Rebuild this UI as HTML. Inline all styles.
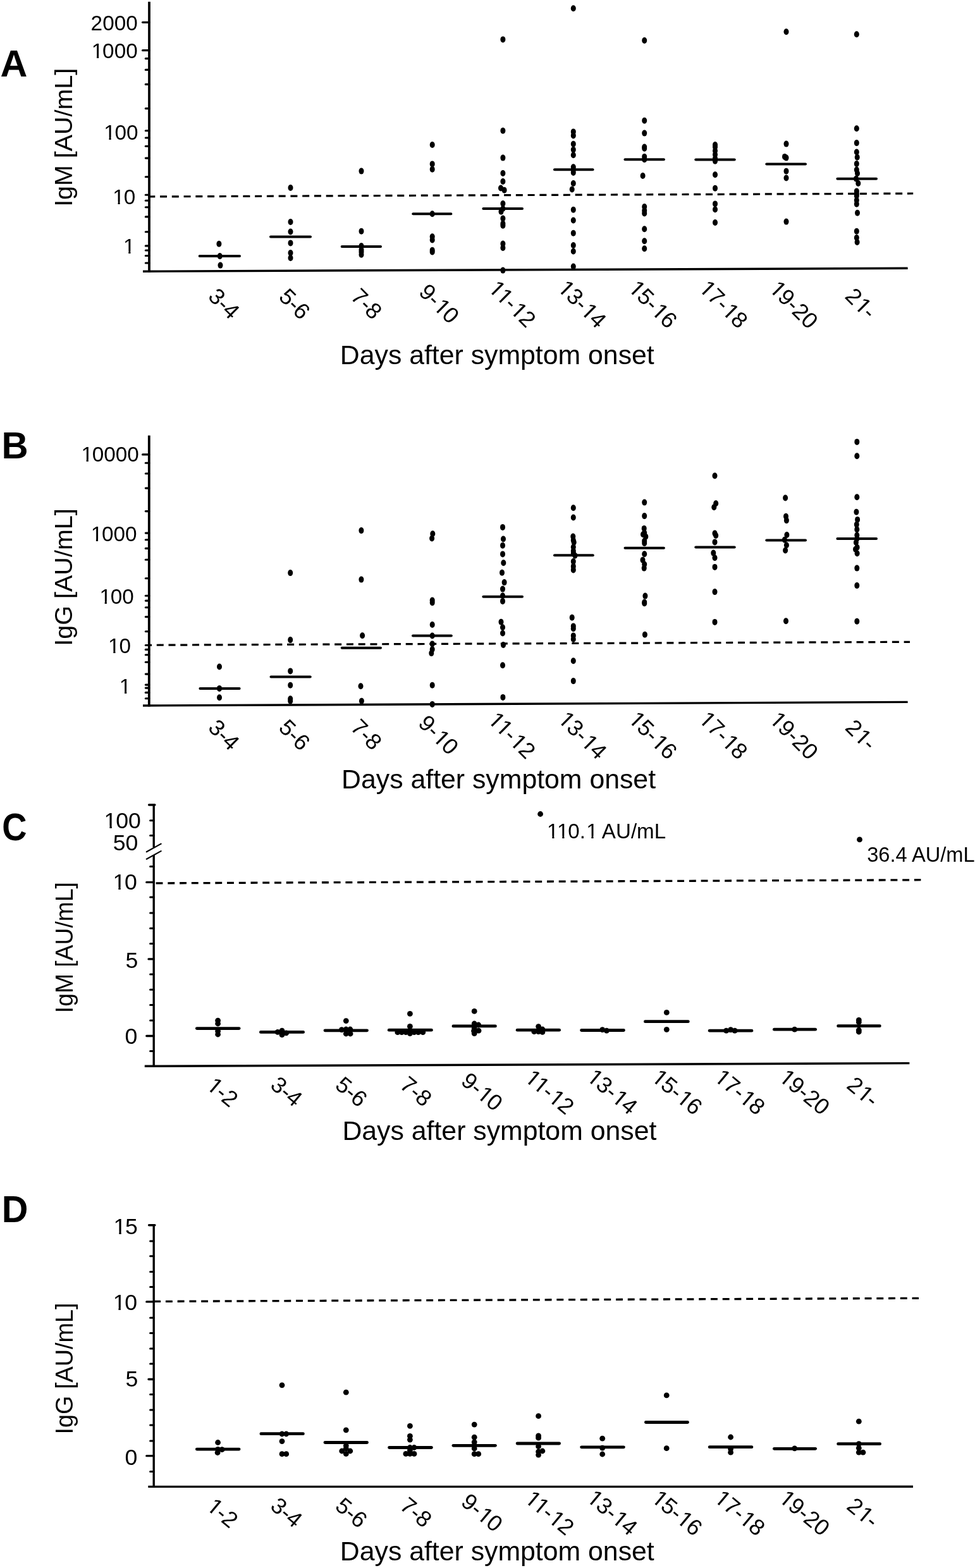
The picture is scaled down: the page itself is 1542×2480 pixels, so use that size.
<!DOCTYPE html>
<html><head><meta charset="utf-8"><title>Antibody levels by days after symptom onset</title>
<style>html,body{margin:0;padding:0;background:#fff;overflow:hidden}svg{display:block}</style></head>
<body><svg xmlns="http://www.w3.org/2000/svg" width="1542" height="2480" viewBox="0 0 1542 2480" font-family="'Liberation Sans', Arial, sans-serif" fill="#000" stroke="#000">
<rect width="1542" height="2480" fill="#fff" stroke="none"/>
<line x1="236" y1="2.7" x2="236" y2="430.8" stroke-width="3.8" stroke-linecap="butt"/>
<line x1="226" y1="429.2" x2="1435.6" y2="424.3" stroke-width="3.4" stroke-linecap="butt"/>
<line x1="225.6" y1="35.3" x2="236" y2="35.3" stroke-width="3.3" stroke-linecap="round"/>
<line x1="225.6" y1="79.7" x2="236" y2="79.7" stroke-width="3.3" stroke-linecap="round"/>
<line x1="230.3" y1="92.6" x2="236" y2="92.6" stroke-width="3.1" stroke-linecap="round"/>
<line x1="230.3" y1="110.4" x2="236" y2="110.4" stroke-width="3.1" stroke-linecap="round"/>
<line x1="230.3" y1="133.4" x2="236" y2="133.4" stroke-width="3.1" stroke-linecap="round"/>
<line x1="230.3" y1="171.6" x2="236" y2="171.6" stroke-width="3.1" stroke-linecap="round"/>
<line x1="230.3" y1="206.8" x2="236" y2="206.8" stroke-width="3.1" stroke-linecap="round"/>
<line x1="230.3" y1="218" x2="236" y2="218" stroke-width="3.1" stroke-linecap="round"/>
<line x1="230.3" y1="231.3" x2="236" y2="231.3" stroke-width="3.1" stroke-linecap="round"/>
<line x1="230.3" y1="250.1" x2="236" y2="250.1" stroke-width="3.1" stroke-linecap="round"/>
<line x1="230.3" y1="279.8" x2="236" y2="279.8" stroke-width="3.1" stroke-linecap="round"/>
<line x1="230.3" y1="308.2" x2="236" y2="308.2" stroke-width="3.1" stroke-linecap="round"/>
<line x1="230.3" y1="317.2" x2="236" y2="317.2" stroke-width="3.1" stroke-linecap="round"/>
<line x1="230.3" y1="327.7" x2="236" y2="327.7" stroke-width="3.1" stroke-linecap="round"/>
<line x1="230.3" y1="342.9" x2="236" y2="342.9" stroke-width="3.1" stroke-linecap="round"/>
<line x1="230.3" y1="366.7" x2="236" y2="366.7" stroke-width="3.1" stroke-linecap="round"/>
<line x1="230.3" y1="388.9" x2="236" y2="388.9" stroke-width="3.1" stroke-linecap="round"/>
<line x1="230.3" y1="396" x2="236" y2="396" stroke-width="3.1" stroke-linecap="round"/>
<line x1="230.3" y1="404.5" x2="236" y2="404.5" stroke-width="3.1" stroke-linecap="round"/>
<line x1="230.3" y1="416" x2="236" y2="416" stroke-width="3.1" stroke-linecap="round"/>
<line x1="236" y1="311" x2="1444.2" y2="306" stroke-width="3.2" stroke-dasharray="11 7.76" stroke-dashoffset="1.7"/>
<line x1="315.7" y1="405.1" x2="379" y2="405.1" stroke-width="4.0" stroke-linecap="round"/>
<line x1="428" y1="374.4" x2="491" y2="374.4" stroke-width="4.0" stroke-linecap="round"/>
<line x1="540.7" y1="390.1" x2="602" y2="390.1" stroke-width="4.0" stroke-linecap="round"/>
<line x1="653.3" y1="338.2" x2="713.3" y2="338.2" stroke-width="4.0" stroke-linecap="round"/>
<line x1="764.4" y1="330" x2="826" y2="330" stroke-width="4.0" stroke-linecap="round"/>
<line x1="877" y1="268.2" x2="937.5" y2="268.2" stroke-width="4.0" stroke-linecap="round"/>
<line x1="988.5" y1="252.2" x2="1049.9" y2="252.2" stroke-width="4.0" stroke-linecap="round"/>
<line x1="1100.3" y1="252.6" x2="1161.7" y2="252.6" stroke-width="4.0" stroke-linecap="round"/>
<line x1="1212.3" y1="259.4" x2="1274" y2="259.4" stroke-width="4.0" stroke-linecap="round"/>
<line x1="1324.4" y1="282.7" x2="1386" y2="282.7" stroke-width="4.0" stroke-linecap="round"/>
<ellipse cx="346.4" cy="385.8" rx="4.0" ry="5.0" stroke="none"/>
<ellipse cx="347.7" cy="405.1" rx="4.0" ry="5.0" stroke="none"/>
<ellipse cx="348.5" cy="419.6" rx="4.0" ry="5.0" stroke="none"/>
<ellipse cx="459.5" cy="297" rx="4.0" ry="5.0" stroke="none"/>
<ellipse cx="459.5" cy="351" rx="4.0" ry="5.0" stroke="none"/>
<ellipse cx="459.5" cy="366.5" rx="4.0" ry="5.0" stroke="none"/>
<ellipse cx="459.5" cy="384.4" rx="4.0" ry="5.0" stroke="none"/>
<ellipse cx="459.5" cy="400" rx="4.0" ry="5.0" stroke="none"/>
<ellipse cx="459.5" cy="408" rx="4.0" ry="5.0" stroke="none"/>
<ellipse cx="571.5" cy="270.6" rx="4.0" ry="5.0" stroke="none"/>
<ellipse cx="571.5" cy="365.7" rx="4.0" ry="5.0" stroke="none"/>
<ellipse cx="571.5" cy="389" rx="4.0" ry="5.0" stroke="none"/>
<ellipse cx="571.5" cy="395" rx="4.0" ry="5.0" stroke="none"/>
<ellipse cx="571.5" cy="398.4" rx="4.0" ry="5.0" stroke="none"/>
<ellipse cx="571.5" cy="402.7" rx="4.0" ry="5.0" stroke="none"/>
<ellipse cx="683.7" cy="229" rx="4.0" ry="5.0" stroke="none"/>
<ellipse cx="683.7" cy="259.4" rx="4.0" ry="5.0" stroke="none"/>
<ellipse cx="683.7" cy="267.7" rx="4.0" ry="5.0" stroke="none"/>
<ellipse cx="683.7" cy="338.2" rx="4.0" ry="5.0" stroke="none"/>
<ellipse cx="683.7" cy="374.3" rx="4.0" ry="5.0" stroke="none"/>
<ellipse cx="683.7" cy="379.5" rx="4.0" ry="5.0" stroke="none"/>
<ellipse cx="683.7" cy="395.8" rx="4.0" ry="5.0" stroke="none"/>
<ellipse cx="683.7" cy="398.4" rx="4.0" ry="5.0" stroke="none"/>
<ellipse cx="795.4" cy="62.4" rx="4.0" ry="5.0" stroke="none"/>
<ellipse cx="795.4" cy="206.7" rx="4.0" ry="5.0" stroke="none"/>
<ellipse cx="795.4" cy="249.6" rx="4.0" ry="5.0" stroke="none"/>
<ellipse cx="795.4" cy="274" rx="4.0" ry="5.0" stroke="none"/>
<ellipse cx="795.4" cy="287" rx="4.0" ry="5.0" stroke="none"/>
<ellipse cx="792" cy="297.5" rx="4.0" ry="5.0" stroke="none"/>
<ellipse cx="797.6" cy="300.7" rx="4.0" ry="5.0" stroke="none"/>
<ellipse cx="795.4" cy="322" rx="4.0" ry="5.0" stroke="none"/>
<ellipse cx="795.4" cy="330" rx="4.0" ry="5.0" stroke="none"/>
<ellipse cx="792.5" cy="334.8" rx="4.0" ry="5.0" stroke="none"/>
<ellipse cx="795.4" cy="345.6" rx="4.0" ry="5.0" stroke="none"/>
<ellipse cx="795.4" cy="353.7" rx="4.0" ry="5.0" stroke="none"/>
<ellipse cx="795.4" cy="356.8" rx="4.0" ry="5.0" stroke="none"/>
<ellipse cx="795.4" cy="385.5" rx="4.0" ry="5.0" stroke="none"/>
<ellipse cx="795.4" cy="392" rx="4.0" ry="5.0" stroke="none"/>
<ellipse cx="795.4" cy="427.6" rx="4.0" ry="5.0" stroke="none"/>
<ellipse cx="906.8" cy="13.2" rx="4.0" ry="5.0" stroke="none"/>
<ellipse cx="906.8" cy="208.4" rx="4.0" ry="5.0" stroke="none"/>
<ellipse cx="906.8" cy="214.4" rx="4.0" ry="5.0" stroke="none"/>
<ellipse cx="906.8" cy="227.8" rx="4.0" ry="5.0" stroke="none"/>
<ellipse cx="906.8" cy="236.7" rx="4.0" ry="5.0" stroke="none"/>
<ellipse cx="906.8" cy="245.3" rx="4.0" ry="5.0" stroke="none"/>
<ellipse cx="906.8" cy="264.3" rx="4.0" ry="5.0" stroke="none"/>
<ellipse cx="906.8" cy="268.2" rx="4.0" ry="5.0" stroke="none"/>
<ellipse cx="906.8" cy="272.9" rx="4.0" ry="5.0" stroke="none"/>
<ellipse cx="906.8" cy="290" rx="4.0" ry="5.0" stroke="none"/>
<ellipse cx="904.7" cy="299.5" rx="4.0" ry="5.0" stroke="none"/>
<ellipse cx="906.8" cy="331.7" rx="4.0" ry="5.0" stroke="none"/>
<ellipse cx="906.8" cy="348.5" rx="4.0" ry="5.0" stroke="none"/>
<ellipse cx="906.8" cy="368.8" rx="4.0" ry="5.0" stroke="none"/>
<ellipse cx="906.8" cy="388" rx="4.0" ry="5.0" stroke="none"/>
<ellipse cx="906.8" cy="397.5" rx="4.0" ry="5.0" stroke="none"/>
<ellipse cx="906.8" cy="421.6" rx="4.0" ry="5.0" stroke="none"/>
<ellipse cx="1019.2" cy="64" rx="4.0" ry="5.0" stroke="none"/>
<ellipse cx="1019.2" cy="190.7" rx="4.0" ry="5.0" stroke="none"/>
<ellipse cx="1019.2" cy="210.6" rx="4.0" ry="5.0" stroke="none"/>
<ellipse cx="1019.2" cy="232.5" rx="4.0" ry="5.0" stroke="none"/>
<ellipse cx="1019.2" cy="234.7" rx="4.0" ry="5.0" stroke="none"/>
<ellipse cx="1019.2" cy="247.9" rx="4.0" ry="5.0" stroke="none"/>
<ellipse cx="1019.2" cy="252.2" rx="4.0" ry="5.0" stroke="none"/>
<ellipse cx="1016.6" cy="278" rx="4.0" ry="5.0" stroke="none"/>
<ellipse cx="1019.2" cy="327" rx="4.0" ry="5.0" stroke="none"/>
<ellipse cx="1019.2" cy="333" rx="4.0" ry="5.0" stroke="none"/>
<ellipse cx="1019.2" cy="337.4" rx="4.0" ry="5.0" stroke="none"/>
<ellipse cx="1019.2" cy="362.3" rx="4.0" ry="5.0" stroke="none"/>
<ellipse cx="1019.2" cy="381.2" rx="4.0" ry="5.0" stroke="none"/>
<ellipse cx="1019.2" cy="393.2" rx="4.0" ry="5.0" stroke="none"/>
<ellipse cx="1131" cy="229" rx="4.0" ry="5.0" stroke="none"/>
<ellipse cx="1131" cy="232.5" rx="4.0" ry="5.0" stroke="none"/>
<ellipse cx="1131" cy="238.5" rx="4.0" ry="5.0" stroke="none"/>
<ellipse cx="1131" cy="244.5" rx="4.0" ry="5.0" stroke="none"/>
<ellipse cx="1131" cy="250.5" rx="4.0" ry="5.0" stroke="none"/>
<ellipse cx="1131" cy="254.8" rx="4.0" ry="5.0" stroke="none"/>
<ellipse cx="1131" cy="276.3" rx="4.0" ry="5.0" stroke="none"/>
<ellipse cx="1131" cy="297.8" rx="4.0" ry="5.0" stroke="none"/>
<ellipse cx="1131" cy="322.4" rx="4.0" ry="5.0" stroke="none"/>
<ellipse cx="1131" cy="331.3" rx="4.0" ry="5.0" stroke="none"/>
<ellipse cx="1131" cy="352" rx="4.0" ry="5.0" stroke="none"/>
<ellipse cx="1243.5" cy="50.3" rx="4.0" ry="5.0" stroke="none"/>
<ellipse cx="1243.5" cy="227.6" rx="4.0" ry="5.0" stroke="none"/>
<ellipse cx="1241" cy="247.9" rx="4.0" ry="5.0" stroke="none"/>
<ellipse cx="1243.5" cy="249.6" rx="4.0" ry="5.0" stroke="none"/>
<ellipse cx="1243.5" cy="270.8" rx="4.0" ry="5.0" stroke="none"/>
<ellipse cx="1243.5" cy="281.5" rx="4.0" ry="5.0" stroke="none"/>
<ellipse cx="1243.5" cy="350.6" rx="4.0" ry="5.0" stroke="none"/>
<ellipse cx="1354.8" cy="54.2" rx="4.0" ry="5.0" stroke="none"/>
<ellipse cx="1354.8" cy="203.2" rx="4.0" ry="5.0" stroke="none"/>
<ellipse cx="1354.8" cy="226.1" rx="4.0" ry="5.0" stroke="none"/>
<ellipse cx="1354.8" cy="240.5" rx="4.0" ry="5.0" stroke="none"/>
<ellipse cx="1355.7" cy="248.8" rx="4.0" ry="5.0" stroke="none"/>
<ellipse cx="1354.8" cy="259.1" rx="4.0" ry="5.0" stroke="none"/>
<ellipse cx="1354.8" cy="268.6" rx="4.0" ry="5.0" stroke="none"/>
<ellipse cx="1356" cy="274.2" rx="4.0" ry="5.0" stroke="none"/>
<ellipse cx="1354" cy="282.7" rx="4.0" ry="5.0" stroke="none"/>
<ellipse cx="1357.3" cy="290" rx="4.0" ry="5.0" stroke="none"/>
<ellipse cx="1354.8" cy="302.4" rx="4.0" ry="5.0" stroke="none"/>
<ellipse cx="1354.8" cy="306.4" rx="4.0" ry="5.0" stroke="none"/>
<ellipse cx="1354.8" cy="309.8" rx="4.0" ry="5.0" stroke="none"/>
<ellipse cx="1354.8" cy="316.7" rx="4.0" ry="5.0" stroke="none"/>
<ellipse cx="1354.8" cy="322.7" rx="4.0" ry="5.0" stroke="none"/>
<ellipse cx="1356" cy="336.8" rx="4.0" ry="5.0" stroke="none"/>
<ellipse cx="1354.8" cy="365.7" rx="4.0" ry="5.0" stroke="none"/>
<ellipse cx="1354.8" cy="376" rx="4.0" ry="5.0" stroke="none"/>
<ellipse cx="1355.6" cy="383" rx="4.0" ry="5.0" stroke="none"/>
<line x1="235.8" y1="688.8" x2="235.8" y2="1117.5" stroke-width="3.8" stroke-linecap="butt"/>
<line x1="226" y1="1116" x2="1435.6" y2="1110.4" stroke-width="3.4" stroke-linecap="butt"/>
<line x1="225.6" y1="718.9" x2="235.8" y2="718.9" stroke-width="3.3" stroke-linecap="round"/>
<line x1="230.3" y1="732.3" x2="235.8" y2="732.3" stroke-width="3.1" stroke-linecap="round"/>
<line x1="230.3" y1="749" x2="235.8" y2="749" stroke-width="3.1" stroke-linecap="round"/>
<line x1="230.3" y1="772.1" x2="235.8" y2="772.1" stroke-width="3.1" stroke-linecap="round"/>
<line x1="230.3" y1="808.6" x2="235.8" y2="808.6" stroke-width="3.1" stroke-linecap="round"/>
<line x1="230.3" y1="843.1" x2="235.8" y2="843.1" stroke-width="3.1" stroke-linecap="round"/>
<line x1="230.3" y1="853.7" x2="235.8" y2="853.7" stroke-width="3.1" stroke-linecap="round"/>
<line x1="230.3" y1="867.4" x2="235.8" y2="867.4" stroke-width="3.1" stroke-linecap="round"/>
<line x1="230.3" y1="885.2" x2="235.8" y2="885.2" stroke-width="3.1" stroke-linecap="round"/>
<line x1="230.3" y1="914.8" x2="235.8" y2="914.8" stroke-width="3.1" stroke-linecap="round"/>
<line x1="230.3" y1="942.2" x2="235.8" y2="942.2" stroke-width="3.1" stroke-linecap="round"/>
<line x1="230.3" y1="950.1" x2="235.8" y2="950.1" stroke-width="3.1" stroke-linecap="round"/>
<line x1="230.3" y1="960.7" x2="235.8" y2="960.7" stroke-width="3.1" stroke-linecap="round"/>
<line x1="230.3" y1="975.6" x2="235.8" y2="975.6" stroke-width="3.1" stroke-linecap="round"/>
<line x1="230.3" y1="998.7" x2="235.8" y2="998.7" stroke-width="3.1" stroke-linecap="round"/>
<line x1="230.3" y1="1020.5" x2="235.8" y2="1020.5" stroke-width="3.1" stroke-linecap="round"/>
<line x1="230.3" y1="1027.4" x2="235.8" y2="1027.4" stroke-width="3.1" stroke-linecap="round"/>
<line x1="230.3" y1="1035.7" x2="235.8" y2="1035.7" stroke-width="3.1" stroke-linecap="round"/>
<line x1="230.3" y1="1047.3" x2="235.8" y2="1047.3" stroke-width="3.1" stroke-linecap="round"/>
<line x1="230.3" y1="1066.1" x2="235.8" y2="1066.1" stroke-width="3.1" stroke-linecap="round"/>
<line x1="230.3" y1="1083.1" x2="235.8" y2="1083.1" stroke-width="3.1" stroke-linecap="round"/>
<line x1="230.3" y1="1088.1" x2="235.8" y2="1088.1" stroke-width="3.1" stroke-linecap="round"/>
<line x1="230.3" y1="1095.4" x2="235.8" y2="1095.4" stroke-width="3.1" stroke-linecap="round"/>
<line x1="230.3" y1="1104.8" x2="235.8" y2="1104.8" stroke-width="3.1" stroke-linecap="round"/>
<line x1="236" y1="1020.3" x2="1439" y2="1015.3" stroke-width="3.2" stroke-dasharray="11 7.76" stroke-dashoffset="7.0"/>
<line x1="316.4" y1="1088.9" x2="378.6" y2="1088.9" stroke-width="4.0" stroke-linecap="round"/>
<line x1="428.5" y1="1070.4" x2="490.7" y2="1070.4" stroke-width="4.0" stroke-linecap="round"/>
<line x1="540.7" y1="1024.8" x2="602" y2="1024.8" stroke-width="4.0" stroke-linecap="round"/>
<line x1="653" y1="1005.5" x2="713.8" y2="1005.5" stroke-width="4.0" stroke-linecap="round"/>
<line x1="764.4" y1="943.7" x2="826" y2="943.7" stroke-width="4.0" stroke-linecap="round"/>
<line x1="877" y1="878.3" x2="937.8" y2="878.3" stroke-width="4.0" stroke-linecap="round"/>
<line x1="988.5" y1="866.8" x2="1049.9" y2="866.8" stroke-width="4.0" stroke-linecap="round"/>
<line x1="1100.3" y1="865.4" x2="1161.7" y2="865.4" stroke-width="4.0" stroke-linecap="round"/>
<line x1="1212.3" y1="854.5" x2="1274" y2="854.5" stroke-width="4.0" stroke-linecap="round"/>
<line x1="1324.4" y1="852" x2="1386" y2="852" stroke-width="4.0" stroke-linecap="round"/>
<ellipse cx="347" cy="1054.5" rx="4.0" ry="5.0" stroke="none"/>
<ellipse cx="347" cy="1088.9" rx="4.0" ry="5.0" stroke="none"/>
<ellipse cx="347" cy="1103.2" rx="4.0" ry="5.0" stroke="none"/>
<ellipse cx="459.2" cy="906.1" rx="4.0" ry="5.0" stroke="none"/>
<ellipse cx="459.2" cy="1012.1" rx="4.0" ry="5.0" stroke="none"/>
<ellipse cx="459.2" cy="1061.4" rx="4.0" ry="5.0" stroke="none"/>
<ellipse cx="459.2" cy="1083.8" rx="4.0" ry="5.0" stroke="none"/>
<ellipse cx="459.2" cy="1105.3" rx="4.0" ry="5.0" stroke="none"/>
<ellipse cx="459.2" cy="1108.7" rx="4.0" ry="5.0" stroke="none"/>
<ellipse cx="571.4" cy="839.1" rx="4.0" ry="5.0" stroke="none"/>
<ellipse cx="571.4" cy="916.6" rx="4.0" ry="5.0" stroke="none"/>
<ellipse cx="573.1" cy="1005.2" rx="4.0" ry="5.0" stroke="none"/>
<ellipse cx="570.5" cy="1085.2" rx="4.0" ry="5.0" stroke="none"/>
<ellipse cx="571.9" cy="1108.7" rx="4.0" ry="5.0" stroke="none"/>
<ellipse cx="684.3" cy="844.2" rx="4.0" ry="5.0" stroke="none"/>
<ellipse cx="683.1" cy="851.5" rx="4.0" ry="5.0" stroke="none"/>
<ellipse cx="683.7" cy="949.6" rx="4.0" ry="5.0" stroke="none"/>
<ellipse cx="683.7" cy="953.1" rx="4.0" ry="5.0" stroke="none"/>
<ellipse cx="683.7" cy="988" rx="4.0" ry="5.0" stroke="none"/>
<ellipse cx="683.7" cy="1005.5" rx="4.0" ry="5.0" stroke="none"/>
<ellipse cx="683.7" cy="1018.4" rx="4.0" ry="5.0" stroke="none"/>
<ellipse cx="683.7" cy="1027" rx="4.0" ry="5.0" stroke="none"/>
<ellipse cx="682.3" cy="1033.1" rx="4.0" ry="5.0" stroke="none"/>
<ellipse cx="683.7" cy="1083.8" rx="4.0" ry="5.0" stroke="none"/>
<ellipse cx="683.7" cy="1113.9" rx="4.0" ry="5.0" stroke="none"/>
<ellipse cx="795" cy="833.9" rx="4.0" ry="5.0" stroke="none"/>
<ellipse cx="796" cy="852.5" rx="4.0" ry="5.0" stroke="none"/>
<ellipse cx="795" cy="862.8" rx="4.0" ry="5.0" stroke="none"/>
<ellipse cx="795" cy="876.4" rx="4.0" ry="5.0" stroke="none"/>
<ellipse cx="796.3" cy="890.2" rx="4.0" ry="5.0" stroke="none"/>
<ellipse cx="794" cy="905.8" rx="4.0" ry="5.0" stroke="none"/>
<ellipse cx="797.6" cy="921.1" rx="4.0" ry="5.0" stroke="none"/>
<ellipse cx="795" cy="931.6" rx="4.0" ry="5.0" stroke="none"/>
<ellipse cx="795" cy="942.3" rx="4.0" ry="5.0" stroke="none"/>
<ellipse cx="795" cy="950.9" rx="4.0" ry="5.0" stroke="none"/>
<ellipse cx="792.5" cy="983.8" rx="4.0" ry="5.0" stroke="none"/>
<ellipse cx="795" cy="992.3" rx="4.0" ry="5.0" stroke="none"/>
<ellipse cx="795" cy="1001.5" rx="4.0" ry="5.0" stroke="none"/>
<ellipse cx="796" cy="1020" rx="4.0" ry="5.0" stroke="none"/>
<ellipse cx="795" cy="1052.2" rx="4.0" ry="5.0" stroke="none"/>
<ellipse cx="795.4" cy="1102.9" rx="4.0" ry="5.0" stroke="none"/>
<ellipse cx="906.8" cy="803.3" rx="4.0" ry="5.0" stroke="none"/>
<ellipse cx="906.8" cy="818.5" rx="4.0" ry="5.0" stroke="none"/>
<ellipse cx="906.3" cy="848.6" rx="4.0" ry="5.0" stroke="none"/>
<ellipse cx="906.8" cy="854.6" rx="4.0" ry="5.0" stroke="none"/>
<ellipse cx="907.7" cy="857.7" rx="4.0" ry="5.0" stroke="none"/>
<ellipse cx="906.8" cy="865.2" rx="4.0" ry="5.0" stroke="none"/>
<ellipse cx="906.8" cy="871.4" rx="4.0" ry="5.0" stroke="none"/>
<ellipse cx="906.8" cy="874.9" rx="4.0" ry="5.0" stroke="none"/>
<ellipse cx="909.4" cy="878.7" rx="4.0" ry="5.0" stroke="none"/>
<ellipse cx="906.8" cy="888.1" rx="4.0" ry="5.0" stroke="none"/>
<ellipse cx="906.8" cy="895.9" rx="4.0" ry="5.0" stroke="none"/>
<ellipse cx="906.8" cy="901.4" rx="4.0" ry="5.0" stroke="none"/>
<ellipse cx="904.7" cy="976.8" rx="4.0" ry="5.0" stroke="none"/>
<ellipse cx="906.8" cy="990.4" rx="4.0" ry="5.0" stroke="none"/>
<ellipse cx="906.8" cy="994.2" rx="4.0" ry="5.0" stroke="none"/>
<ellipse cx="906.8" cy="1005.4" rx="4.0" ry="5.0" stroke="none"/>
<ellipse cx="906.8" cy="1011" rx="4.0" ry="5.0" stroke="none"/>
<ellipse cx="906.8" cy="1045.3" rx="4.0" ry="5.0" stroke="none"/>
<ellipse cx="906.8" cy="1077.1" rx="4.0" ry="5.0" stroke="none"/>
<ellipse cx="1019.2" cy="794.6" rx="4.0" ry="5.0" stroke="none"/>
<ellipse cx="1019.2" cy="816.1" rx="4.0" ry="5.0" stroke="none"/>
<ellipse cx="1018.7" cy="835.9" rx="4.0" ry="5.0" stroke="none"/>
<ellipse cx="1019.2" cy="842.7" rx="4.0" ry="5.0" stroke="none"/>
<ellipse cx="1017" cy="845.3" rx="4.0" ry="5.0" stroke="none"/>
<ellipse cx="1021.3" cy="848.8" rx="4.0" ry="5.0" stroke="none"/>
<ellipse cx="1019.2" cy="855.6" rx="4.0" ry="5.0" stroke="none"/>
<ellipse cx="1019.2" cy="859.1" rx="4.0" ry="5.0" stroke="none"/>
<ellipse cx="1019.2" cy="876.3" rx="4.0" ry="5.0" stroke="none"/>
<ellipse cx="1016.5" cy="885.7" rx="4.0" ry="5.0" stroke="none"/>
<ellipse cx="1019.2" cy="892.6" rx="4.0" ry="5.0" stroke="none"/>
<ellipse cx="1018.7" cy="898.6" rx="4.0" ry="5.0" stroke="none"/>
<ellipse cx="1020.4" cy="942.6" rx="4.0" ry="5.0" stroke="none"/>
<ellipse cx="1019.2" cy="952.5" rx="4.0" ry="5.0" stroke="none"/>
<ellipse cx="1019.2" cy="954.2" rx="4.0" ry="5.0" stroke="none"/>
<ellipse cx="1019.9" cy="1003.7" rx="4.0" ry="5.0" stroke="none"/>
<ellipse cx="1130.5" cy="752.5" rx="4.0" ry="5.0" stroke="none"/>
<ellipse cx="1132.2" cy="796.3" rx="4.0" ry="5.0" stroke="none"/>
<ellipse cx="1129.3" cy="802.3" rx="4.0" ry="5.0" stroke="none"/>
<ellipse cx="1130.5" cy="843.6" rx="4.0" ry="5.0" stroke="none"/>
<ellipse cx="1132.2" cy="847" rx="4.0" ry="5.0" stroke="none"/>
<ellipse cx="1130.5" cy="857.4" rx="4.0" ry="5.0" stroke="none"/>
<ellipse cx="1128.3" cy="874.6" rx="4.0" ry="5.0" stroke="none"/>
<ellipse cx="1130.5" cy="882.3" rx="4.0" ry="5.0" stroke="none"/>
<ellipse cx="1130.5" cy="896.9" rx="4.0" ry="5.0" stroke="none"/>
<ellipse cx="1130.5" cy="936.1" rx="4.0" ry="5.0" stroke="none"/>
<ellipse cx="1130.5" cy="983.9" rx="4.0" ry="5.0" stroke="none"/>
<ellipse cx="1242.1" cy="787.5" rx="4.0" ry="5.0" stroke="none"/>
<ellipse cx="1243" cy="816.7" rx="4.0" ry="5.0" stroke="none"/>
<ellipse cx="1243.9" cy="823.1" rx="4.0" ry="5.0" stroke="none"/>
<ellipse cx="1244.4" cy="846" rx="4.0" ry="5.0" stroke="none"/>
<ellipse cx="1240.9" cy="853.7" rx="4.0" ry="5.0" stroke="none"/>
<ellipse cx="1243.9" cy="862.3" rx="4.0" ry="5.0" stroke="none"/>
<ellipse cx="1242.1" cy="870.5" rx="4.0" ry="5.0" stroke="none"/>
<ellipse cx="1243" cy="982.3" rx="4.0" ry="5.0" stroke="none"/>
<ellipse cx="1355.3" cy="698.9" rx="4.0" ry="5.0" stroke="none"/>
<ellipse cx="1355.3" cy="721.3" rx="4.0" ry="5.0" stroke="none"/>
<ellipse cx="1355.3" cy="786.3" rx="4.0" ry="5.0" stroke="none"/>
<ellipse cx="1354.4" cy="809.8" rx="4.0" ry="5.0" stroke="none"/>
<ellipse cx="1356.1" cy="821.9" rx="4.0" ry="5.0" stroke="none"/>
<ellipse cx="1354.8" cy="829.6" rx="4.0" ry="5.0" stroke="none"/>
<ellipse cx="1355.3" cy="837.4" rx="4.0" ry="5.0" stroke="none"/>
<ellipse cx="1355.3" cy="846.5" rx="4.0" ry="5.0" stroke="none"/>
<ellipse cx="1355.3" cy="852" rx="4.0" ry="5.0" stroke="none"/>
<ellipse cx="1353.9" cy="858" rx="4.0" ry="5.0" stroke="none"/>
<ellipse cx="1355.6" cy="865.7" rx="4.0" ry="5.0" stroke="none"/>
<ellipse cx="1353" cy="868.8" rx="4.0" ry="5.0" stroke="none"/>
<ellipse cx="1355.6" cy="875.2" rx="4.0" ry="5.0" stroke="none"/>
<ellipse cx="1355.3" cy="898.6" rx="4.0" ry="5.0" stroke="none"/>
<ellipse cx="1355.3" cy="926.1" rx="4.0" ry="5.0" stroke="none"/>
<ellipse cx="1355.3" cy="982.8" rx="4.0" ry="5.0" stroke="none"/>
<line x1="243.2" y1="1272.9" x2="243.2" y2="1340.2" stroke-width="3.4" stroke-linecap="butt"/>
<line x1="243.2" y1="1352.5" x2="243.2" y2="1687.9" stroke-width="3.4" stroke-linecap="butt"/>
<line x1="231.8" y1="1347.3" x2="254.6" y2="1334.6" stroke-width="2.2" stroke-linecap="round"/>
<line x1="231.8" y1="1358.7" x2="254.6" y2="1346.1" stroke-width="2.2" stroke-linecap="round"/>
<line x1="235.6" y1="1273" x2="244.9" y2="1273" stroke-width="3.4" stroke-linecap="round"/>
<line x1="237.6" y1="1297.7" x2="243.2" y2="1297.7" stroke-width="3.0" stroke-linecap="round"/>
<line x1="237.6" y1="1321.5" x2="243.2" y2="1321.5" stroke-width="3.0" stroke-linecap="round"/>
<line x1="237.6" y1="1370.6" x2="243.2" y2="1370.6" stroke-width="3.0" stroke-linecap="round"/>
<line x1="237.6" y1="1419" x2="243.2" y2="1419" stroke-width="3.0" stroke-linecap="round"/>
<line x1="237.6" y1="1444.1" x2="243.2" y2="1444.1" stroke-width="3.0" stroke-linecap="round"/>
<line x1="237.6" y1="1468.3" x2="243.2" y2="1468.3" stroke-width="3.0" stroke-linecap="round"/>
<line x1="237.6" y1="1492.5" x2="243.2" y2="1492.5" stroke-width="3.0" stroke-linecap="round"/>
<line x1="237.6" y1="1541.1" x2="243.2" y2="1541.1" stroke-width="3.0" stroke-linecap="round"/>
<line x1="237.6" y1="1565.3" x2="243.2" y2="1565.3" stroke-width="3.0" stroke-linecap="round"/>
<line x1="237.6" y1="1589.6" x2="243.2" y2="1589.6" stroke-width="3.0" stroke-linecap="round"/>
<line x1="237.6" y1="1613.9" x2="243.2" y2="1613.9" stroke-width="3.0" stroke-linecap="round"/>
<line x1="237.6" y1="1662.5" x2="243.2" y2="1662.5" stroke-width="3.0" stroke-linecap="round"/>
<line x1="231.8" y1="1395.4" x2="243.2" y2="1395.4" stroke-width="3.3" stroke-linecap="round"/>
<line x1="235" y1="1516.9" x2="243.2" y2="1516.9" stroke-width="3.3" stroke-linecap="round"/>
<line x1="231.8" y1="1638.5" x2="243.2" y2="1638.5" stroke-width="3.3" stroke-linecap="round"/>
<line x1="228.8" y1="1686.3" x2="1438.4" y2="1681.6" stroke-width="3.4" stroke-linecap="butt"/>
<line x1="246.6" y1="1396.9" x2="1456.4" y2="1391.7" stroke-width="3.3" stroke-dasharray="10.9 7.84" stroke-dashoffset="0"/>
<line x1="311.3" y1="1626.6" x2="378.1" y2="1626.6" stroke-width="4.8" stroke-linecap="round"/>
<line x1="412.4" y1="1632.4" x2="479.6" y2="1632.4" stroke-width="4.8" stroke-linecap="round"/>
<line x1="514" y1="1629.8" x2="580.5" y2="1629.8" stroke-width="4.8" stroke-linecap="round"/>
<line x1="615.2" y1="1629.2" x2="682.4" y2="1629.2" stroke-width="4.8" stroke-linecap="round"/>
<line x1="716.9" y1="1622.9" x2="783.4" y2="1622.9" stroke-width="4.8" stroke-linecap="round"/>
<line x1="818.1" y1="1629.2" x2="884.6" y2="1629.2" stroke-width="4.8" stroke-linecap="round"/>
<line x1="919.6" y1="1629.5" x2="986.4" y2="1629.5" stroke-width="4.8" stroke-linecap="round"/>
<line x1="1020.4" y1="1615.7" x2="1088.3" y2="1615.7" stroke-width="4.8" stroke-linecap="round"/>
<line x1="1122.2" y1="1630.2" x2="1188.9" y2="1630.2" stroke-width="4.8" stroke-linecap="round"/>
<line x1="1224.4" y1="1628.2" x2="1289.6" y2="1628.2" stroke-width="4.8" stroke-linecap="round"/>
<line x1="1325.6" y1="1622.7" x2="1391.3" y2="1622.7" stroke-width="4.8" stroke-linecap="round"/>
<circle cx="344.6" cy="1614.2" r="4.4" stroke="none"/>
<circle cx="344.6" cy="1619" r="4.4" stroke="none"/>
<circle cx="344.6" cy="1630.9" r="4.4" stroke="none"/>
<circle cx="344.6" cy="1636" r="4.4" stroke="none"/>
<circle cx="439.1" cy="1632.4" r="4.4" stroke="none"/>
<circle cx="446" cy="1630.2" r="4.4" stroke="none"/>
<circle cx="446" cy="1636.7" r="4.4" stroke="none"/>
<circle cx="452.7" cy="1633.8" r="4.4" stroke="none"/>
<circle cx="547.3" cy="1614.6" r="4.4" stroke="none"/>
<circle cx="540.4" cy="1628.7" r="4.4" stroke="none"/>
<circle cx="547.3" cy="1628" r="4.4" stroke="none"/>
<circle cx="553.8" cy="1628" r="4.4" stroke="none"/>
<circle cx="547.3" cy="1635" r="4.4" stroke="none"/>
<circle cx="554.1" cy="1635" r="4.4" stroke="none"/>
<circle cx="648.4" cy="1603.3" r="4.4" stroke="none"/>
<circle cx="648.4" cy="1623.4" r="4.4" stroke="none"/>
<circle cx="628.8" cy="1632.7" r="4.4" stroke="none"/>
<circle cx="635.3" cy="1632.7" r="4.4" stroke="none"/>
<circle cx="641.9" cy="1632.7" r="4.4" stroke="none"/>
<circle cx="648.4" cy="1634.6" r="4.4" stroke="none"/>
<circle cx="655" cy="1632.7" r="4.4" stroke="none"/>
<circle cx="661.5" cy="1632.7" r="4.4" stroke="none"/>
<circle cx="668.8" cy="1632.7" r="4.4" stroke="none"/>
<circle cx="750.2" cy="1599.4" r="4.4" stroke="none"/>
<circle cx="750.2" cy="1619" r="4.4" stroke="none"/>
<circle cx="756.7" cy="1621" r="4.4" stroke="none"/>
<circle cx="750.2" cy="1626.8" r="4.4" stroke="none"/>
<circle cx="749.5" cy="1630.6" r="4.4" stroke="none"/>
<circle cx="757" cy="1630.2" r="4.4" stroke="none"/>
<circle cx="750.2" cy="1634.6" r="4.4" stroke="none"/>
<circle cx="851.6" cy="1623.6" r="4.4" stroke="none"/>
<circle cx="844.8" cy="1631.7" r="4.4" stroke="none"/>
<circle cx="851.6" cy="1631.7" r="4.4" stroke="none"/>
<circle cx="857.9" cy="1628" r="4.4" stroke="none"/>
<circle cx="857.9" cy="1632.4" r="4.4" stroke="none"/>
<circle cx="952.7" cy="1628.7" r="4.4" stroke="none"/>
<circle cx="959.4" cy="1630.2" r="4.4" stroke="none"/>
<circle cx="1054.3" cy="1601.4" r="4.4" stroke="none"/>
<circle cx="1054.3" cy="1628.3" r="4.4" stroke="none"/>
<circle cx="1148.6" cy="1630.2" r="4.4" stroke="none"/>
<circle cx="1155.6" cy="1628.6" r="4.4" stroke="none"/>
<circle cx="1162.1" cy="1630.2" r="4.4" stroke="none"/>
<circle cx="1256.7" cy="1628.2" r="4.4" stroke="none"/>
<circle cx="1358.3" cy="1613.3" r="4.4" stroke="none"/>
<circle cx="1358.3" cy="1616.7" r="4.4" stroke="none"/>
<circle cx="1358.3" cy="1629.2" r="4.4" stroke="none"/>
<circle cx="1358.3" cy="1632" r="4.4" stroke="none"/>
<circle cx="854.6" cy="1287.5" r="4.4" stroke="none"/>
<circle cx="1359.5" cy="1327.9" r="4.4" stroke="none"/>
<line x1="243.2" y1="1937.7" x2="243.2" y2="2353" stroke-width="3.4" stroke-linecap="butt"/>
<line x1="235.6" y1="1937.7" x2="244.9" y2="1937.7" stroke-width="3.4" stroke-linecap="round"/>
<line x1="237.6" y1="1962.9" x2="243.2" y2="1962.9" stroke-width="3.0" stroke-linecap="round"/>
<line x1="237.6" y1="1986.7" x2="243.2" y2="1986.7" stroke-width="3.0" stroke-linecap="round"/>
<line x1="237.6" y1="2011.5" x2="243.2" y2="2011.5" stroke-width="3.0" stroke-linecap="round"/>
<line x1="237.6" y1="2035.6" x2="243.2" y2="2035.6" stroke-width="3.0" stroke-linecap="round"/>
<line x1="237.6" y1="2084.3" x2="243.2" y2="2084.3" stroke-width="3.0" stroke-linecap="round"/>
<line x1="237.6" y1="2108.6" x2="243.2" y2="2108.6" stroke-width="3.0" stroke-linecap="round"/>
<line x1="237.6" y1="2132.9" x2="243.2" y2="2132.9" stroke-width="3.0" stroke-linecap="round"/>
<line x1="237.6" y1="2157" x2="243.2" y2="2157" stroke-width="3.0" stroke-linecap="round"/>
<line x1="237.6" y1="2205.5" x2="243.2" y2="2205.5" stroke-width="3.0" stroke-linecap="round"/>
<line x1="237.6" y1="2230" x2="243.2" y2="2230" stroke-width="3.0" stroke-linecap="round"/>
<line x1="237.6" y1="2254.1" x2="243.2" y2="2254.1" stroke-width="3.0" stroke-linecap="round"/>
<line x1="237.6" y1="2278.9" x2="243.2" y2="2278.9" stroke-width="3.0" stroke-linecap="round"/>
<line x1="237.6" y1="2327.5" x2="243.2" y2="2327.5" stroke-width="3.0" stroke-linecap="round"/>
<line x1="231.8" y1="2058.9" x2="243.2" y2="2058.9" stroke-width="3.3" stroke-linecap="round"/>
<line x1="235" y1="2181.5" x2="243.2" y2="2181.5" stroke-width="3.3" stroke-linecap="round"/>
<line x1="231.8" y1="2302.7" x2="243.2" y2="2302.7" stroke-width="3.3" stroke-linecap="round"/>
<line x1="234.3" y1="2351.4" x2="1444" y2="2351.3" stroke-width="3.4" stroke-linecap="butt"/>
<line x1="243.5" y1="2058.4" x2="1453" y2="2053.3" stroke-width="3.3" stroke-dasharray="10.9 7.84" stroke-dashoffset="0.3"/>
<line x1="311.3" y1="2292.1" x2="378.1" y2="2292.1" stroke-width="4.8" stroke-linecap="round"/>
<line x1="412.9" y1="2267.7" x2="479.4" y2="2267.7" stroke-width="4.8" stroke-linecap="round"/>
<line x1="514" y1="2281.5" x2="580.5" y2="2281.5" stroke-width="4.8" stroke-linecap="round"/>
<line x1="615.6" y1="2289.5" x2="682.4" y2="2289.5" stroke-width="4.8" stroke-linecap="round"/>
<line x1="716.9" y1="2286.3" x2="783.4" y2="2286.3" stroke-width="4.8" stroke-linecap="round"/>
<line x1="818.1" y1="2283" x2="884.6" y2="2283" stroke-width="4.8" stroke-linecap="round"/>
<line x1="919.6" y1="2288.8" x2="986.4" y2="2288.8" stroke-width="4.8" stroke-linecap="round"/>
<line x1="1021.4" y1="2249.5" x2="1087.5" y2="2249.5" stroke-width="4.8" stroke-linecap="round"/>
<line x1="1122.2" y1="2288.7" x2="1188.9" y2="2288.7" stroke-width="4.8" stroke-linecap="round"/>
<line x1="1224.4" y1="2291.3" x2="1289.6" y2="2291.3" stroke-width="4.8" stroke-linecap="round"/>
<line x1="1325.6" y1="2283.7" x2="1391.6" y2="2283.7" stroke-width="4.8" stroke-linecap="round"/>
<circle cx="344.6" cy="2281.5" r="4.4" stroke="none"/>
<circle cx="344.6" cy="2292.4" r="4.4" stroke="none"/>
<circle cx="351.1" cy="2292.7" r="4.4" stroke="none"/>
<circle cx="344.1" cy="2297.5" r="4.4" stroke="none"/>
<circle cx="446" cy="2190.8" r="4.4" stroke="none"/>
<circle cx="446" cy="2268" r="4.4" stroke="none"/>
<circle cx="452.7" cy="2268" r="4.4" stroke="none"/>
<circle cx="446" cy="2279.6" r="4.4" stroke="none"/>
<circle cx="446" cy="2299.7" r="4.4" stroke="none"/>
<circle cx="452.7" cy="2299.7" r="4.4" stroke="none"/>
<circle cx="547.3" cy="2202.2" r="4.4" stroke="none"/>
<circle cx="547.3" cy="2261.8" r="4.4" stroke="none"/>
<circle cx="547.3" cy="2286.6" r="4.4" stroke="none"/>
<circle cx="547.3" cy="2291" r="4.4" stroke="none"/>
<circle cx="540.7" cy="2295" r="4.4" stroke="none"/>
<circle cx="553.8" cy="2295" r="4.4" stroke="none"/>
<circle cx="547.3" cy="2299.4" r="4.4" stroke="none"/>
<circle cx="648.4" cy="2255.3" r="4.4" stroke="none"/>
<circle cx="648.4" cy="2271.3" r="4.4" stroke="none"/>
<circle cx="648.4" cy="2277.1" r="4.4" stroke="none"/>
<circle cx="648.4" cy="2289.5" r="4.4" stroke="none"/>
<circle cx="655" cy="2289.5" r="4.4" stroke="none"/>
<circle cx="641.9" cy="2299.4" r="4.4" stroke="none"/>
<circle cx="648.4" cy="2299.4" r="4.4" stroke="none"/>
<circle cx="655" cy="2299.4" r="4.4" stroke="none"/>
<circle cx="648.4" cy="2293.9" r="4.4" stroke="none"/>
<circle cx="750.2" cy="2253.1" r="4.4" stroke="none"/>
<circle cx="750.2" cy="2273.2" r="4.4" stroke="none"/>
<circle cx="750.2" cy="2280.8" r="4.4" stroke="none"/>
<circle cx="750.2" cy="2286.3" r="4.4" stroke="none"/>
<circle cx="750.2" cy="2291" r="4.4" stroke="none"/>
<circle cx="750.2" cy="2299.7" r="4.4" stroke="none"/>
<circle cx="756.7" cy="2299.7" r="4.4" stroke="none"/>
<circle cx="851.6" cy="2239.7" r="4.4" stroke="none"/>
<circle cx="851.6" cy="2270.9" r="4.4" stroke="none"/>
<circle cx="851.6" cy="2274.2" r="4.4" stroke="none"/>
<circle cx="851.6" cy="2287.7" r="4.4" stroke="none"/>
<circle cx="851.6" cy="2296" r="4.4" stroke="none"/>
<circle cx="857.9" cy="2295" r="4.4" stroke="none"/>
<circle cx="851.6" cy="2301.1" r="4.4" stroke="none"/>
<circle cx="952.7" cy="2275.2" r="4.4" stroke="none"/>
<circle cx="952.7" cy="2290.2" r="4.4" stroke="none"/>
<circle cx="952.7" cy="2300" r="4.4" stroke="none"/>
<circle cx="1054.2" cy="2206.9" r="4.4" stroke="none"/>
<circle cx="1054.2" cy="2290.7" r="4.4" stroke="none"/>
<circle cx="1155.6" cy="2273" r="4.4" stroke="none"/>
<circle cx="1155.6" cy="2291.7" r="4.4" stroke="none"/>
<circle cx="1155.6" cy="2297.2" r="4.4" stroke="none"/>
<circle cx="1256.7" cy="2290.9" r="4.4" stroke="none"/>
<circle cx="1358.3" cy="2248.2" r="4.4" stroke="none"/>
<circle cx="1358.3" cy="2283.7" r="4.4" stroke="none"/>
<circle cx="1358.3" cy="2290.3" r="4.4" stroke="none"/>
<circle cx="1358.3" cy="2297.2" r="4.4" stroke="none"/>
<circle cx="1364.9" cy="2297.2" r="4.4" stroke="none"/>
<g stroke="none">
<g transform="translate(22.05 120.80) scale(1.0237 1.0225)"><text font-size="58" font-weight="bold" text-anchor="middle">A</text></g>
<g transform="translate(23.60 724.90) scale(1.0057 1.0250)"><text font-size="58" font-weight="bold" text-anchor="middle">B</text></g>
<g transform="translate(22.90 1329.10) scale(0.9368 1.0475)"><text font-size="58" font-weight="bold" text-anchor="middle">C</text></g>
<g transform="translate(23.60 1933.20) scale(0.9943 1.0300)"><text font-size="58" font-weight="bold" text-anchor="middle">D</text></g>
<g transform="translate(180.65 47.97) scale(1.0100 1.0100)"><text font-size="33" text-anchor="middle">2000</text></g>
<g transform="translate(180.65 92.42) scale(1.0100 1.0100)"><g><text x="-36.706" font-size="33" dx="1.16 -1.16 0 0" clip-path="url(#f1)">1000</text></g></g>
<g transform="translate(190.84 220.56) scale(1.0100 1.0100)"><g><text x="-27.530" font-size="33" dx="1.16 -1.16 0" clip-path="url(#f2)">100</text></g></g>
<g transform="translate(195.63 322.67) scale(1.0100 1.0100)"><g><text x="-18.353" font-size="33" dx="1.16 -1.16" clip-path="url(#f3)">10</text></g></g>
<g transform="translate(204.28 400.72) scale(1.0100 1.0100)"><g><text x="-9.177" font-size="33" clip-path="url(#f4)">1</text></g></g>
<g transform="translate(173.55 730.37) scale(1.0100 1.0100)"><g><text x="-45.883" font-size="33" dx="1.16 -1.16 0 0 0" clip-path="url(#f5)">10000</text></g></g>
<g transform="translate(179.55 855.62) scale(1.0100 1.0100)"><g><text x="-36.706" font-size="33" dx="1.16 -1.16 0 0" clip-path="url(#f6)">1000</text></g></g>
<g transform="translate(184.04 954.52) scale(1.0100 1.0100)"><g><text x="-27.530" font-size="33" dx="1.16 -1.16 0" clip-path="url(#f7)">100</text></g></g>
<g transform="translate(188.43 1033.26) scale(1.0100 1.0100)"><g><text x="-18.353" font-size="33" dx="1.16 -1.16" clip-path="url(#f8)">10</text></g></g>
<g transform="translate(198.08 1097.21) scale(1.0100 1.0100)"><g><text x="-9.177" font-size="33" clip-path="url(#f9)">1</text></g></g>
<g transform="translate(193.09 1310.07) scale(0.9900 0.9900)"><g><text x="-30.032" font-size="36" dx="1.26 -1.26 0" clip-path="url(#f10)">100</text></g></g>
<g transform="translate(198.59 1345.27) scale(0.9900 0.9900)"><text font-size="36" text-anchor="middle">50</text></g>
<g transform="translate(197.09 1407.02) scale(0.9900 0.9900)"><g><text x="-20.022" font-size="36" dx="1.26 -1.26" clip-path="url(#f11)">10</text></g></g>
<g transform="translate(208.48 1530.97) scale(0.9900 0.9900)"><text font-size="36" text-anchor="middle">5</text></g>
<g transform="translate(207.49 1651.27) scale(0.9900 0.9900)"><text font-size="36" text-anchor="middle">0</text></g>
<g transform="translate(198.08 1952.07) scale(0.9900 0.9900)"><g><text x="-20.022" font-size="36" dx="1.26 -1.26" clip-path="url(#f12)">15</text></g></g>
<g transform="translate(197.19 2072.07) scale(0.9900 0.9900)"><g><text x="-20.022" font-size="36" dx="1.26 -1.26" clip-path="url(#f13)">10</text></g></g>
<g transform="translate(208.48 2193.37) scale(0.9900 0.9900)"><text font-size="36" text-anchor="middle">5</text></g>
<g transform="translate(207.49 2317.32) scale(0.9900 0.9900)"><text font-size="36" text-anchor="middle">0</text></g>
<g transform="translate(114.18 217.30) scale(1.0028 1.0038)"><text font-size="39.3" text-anchor="middle" transform="rotate(-90)">IgM [AU/mL]</text></g>
<g transform="translate(114.27 912.95) scale(0.9917 1.0062)"><text font-size="39.3" text-anchor="middle" transform="rotate(-90)">IgG [AU/mL]</text></g>
<g transform="translate(115.00 1498.60) scale(1.0000 0.9491)"><text font-size="39.3" text-anchor="middle" transform="rotate(-90)">IgM [AU/mL]</text></g>
<g transform="translate(114.84 2164.48) scale(0.9944 0.9617)"><text font-size="39.3" text-anchor="middle" transform="rotate(-90)">IgG [AU/mL]</text></g>
<g transform="translate(786.27 576.40) scale(1.0190 1.0190)"><text font-size="42" text-anchor="middle">Days after symptom onset</text></g>
<g transform="translate(788.57 1246.50) scale(1.0190 1.0190)"><text font-size="42" text-anchor="middle">Days after symptom onset</text></g>
<g transform="translate(789.87 1802.90) scale(1.0190 1.0190)"><text font-size="42" text-anchor="middle">Days after symptom onset</text></g>
<g transform="translate(786.27 2467.90) scale(1.0190 1.0190)"><text font-size="42" text-anchor="middle">Days after symptom onset</text></g>
<g transform="translate(863.96 1325.60) scale(1.0356 1.0356)"><g><text x="0.000" font-size="32" dx="1.12 0 -1.12 0 1.12 -1.12 0 0 0 0 0" clip-path="url(#f14)">110.1 AU/mL</text></g></g>
<g transform="translate(1371.18 1363.30) scale(1.0200 1.0200)"><text font-size="32" text-anchor="start">36.4 AU/mL</text></g>
<g transform="translate(345.70 488.85) scale(1.0180 1.0180)"><text font-size="35" text-anchor="middle" transform="rotate(45)">3-4</text></g>
<g transform="translate(457.35 489.42) scale(1.0180 1.0180)"><text font-size="35" text-anchor="middle" transform="rotate(45)">5-6</text></g>
<g transform="translate(571.14 489.17) scale(1.0180 1.0180)"><text font-size="35" text-anchor="middle" transform="rotate(45)">7-8</text></g>
<g transform="translate(685.95 488.91) scale(1.0180 1.0180)"><g transform="rotate(45)"><text x="-35.026" font-size="35" dx="0 0 1.23 -1.23" clip-path="url(#f15)">9-10</text></g></g>
<g transform="translate(801.31 488.67) scale(1.0180 1.0180)"><g transform="rotate(45)"><text x="-43.460" font-size="35" dx="1.23 0 -1.23 1.23 -1.23" clip-path="url(#f16)">11-12</text></g></g>
<g transform="translate(911.86 488.98) scale(1.0180 1.0180)"><g transform="rotate(45)"><text x="-44.759" font-size="35" dx="1.23 -1.23 0 1.23 -1.23" clip-path="url(#f17)">13-14</text></g></g>
<g transform="translate(1023.66 489.23) scale(1.0180 1.0180)"><g transform="rotate(45)"><text x="-44.759" font-size="35" dx="1.23 -1.23 0 1.23 -1.23" clip-path="url(#f18)">15-16</text></g></g>
<g transform="translate(1135.41 489.23) scale(1.0180 1.0180)"><g transform="rotate(45)"><text x="-44.759" font-size="35" dx="1.23 -1.23 0 1.23 -1.23" clip-path="url(#f19)">17-18</text></g></g>
<g transform="translate(1246.51 489.99) scale(1.0180 1.0180)"><g transform="rotate(45)"><text x="-44.759" font-size="35" dx="1.23 -1.23 0 0 0" clip-path="url(#f20)">19-20</text></g></g>
<g transform="translate(1353.03 488.48) scale(1.0180 1.0180)"><g transform="rotate(45)"><text x="-25.293" font-size="35" dx="0 1.23 -1.23" clip-path="url(#f21)">21-</text></g></g>
<g transform="translate(345.65 1170.85) scale(1.0180 1.0180)"><text font-size="35" text-anchor="middle" transform="rotate(45)">3-4</text></g>
<g transform="translate(457.25 1170.97) scale(1.0180 1.0180)"><text font-size="35" text-anchor="middle" transform="rotate(45)">5-6</text></g>
<g transform="translate(570.84 1170.42) scale(1.0180 1.0180)"><text font-size="35" text-anchor="middle" transform="rotate(45)">7-8</text></g>
<g transform="translate(685.00 1170.91) scale(1.0180 1.0180)"><g transform="rotate(45)"><text x="-35.026" font-size="35" dx="0 0 1.23 -1.23" clip-path="url(#f22)">9-10</text></g></g>
<g transform="translate(800.71 1171.02) scale(1.0180 1.0180)"><g transform="rotate(45)"><text x="-43.460" font-size="35" dx="1.23 0 -1.23 1.23 -1.23" clip-path="url(#f23)">11-12</text></g></g>
<g transform="translate(912.41 1171.08) scale(1.0180 1.0180)"><g transform="rotate(45)"><text x="-44.759" font-size="35" dx="1.23 -1.23 0 1.23 -1.23" clip-path="url(#f24)">13-14</text></g></g>
<g transform="translate(1023.71 1171.08) scale(1.0180 1.0180)"><g transform="rotate(45)"><text x="-44.759" font-size="35" dx="1.23 -1.23 0 1.23 -1.23" clip-path="url(#f25)">15-16</text></g></g>
<g transform="translate(1135.16 1171.08) scale(1.0180 1.0180)"><g transform="rotate(45)"><text x="-44.759" font-size="35" dx="1.23 -1.23 0 1.23 -1.23" clip-path="url(#f26)">17-18</text></g></g>
<g transform="translate(1246.81 1171.59) scale(1.0180 1.0180)"><g transform="rotate(45)"><text x="-44.759" font-size="35" dx="1.23 -1.23 0 0 0" clip-path="url(#f27)">19-20</text></g></g>
<g transform="translate(1353.08 1170.88) scale(1.0180 1.0180)"><g transform="rotate(45)"><text x="-25.293" font-size="35" dx="0 1.23 -1.23" clip-path="url(#f28)">21-</text></g></g>
<g transform="translate(343.77 1736.13) scale(1.0180 1.0180)"><g transform="rotate(40)"><text x="-25.293" font-size="35" dx="1.23 -1.23 0" clip-path="url(#f29)">1-2</text></g></g>
<g transform="translate(445.51 1735.81) scale(1.0180 1.0180)"><text font-size="35" text-anchor="middle" transform="rotate(40)">3-4</text></g>
<g transform="translate(548.07 1736.13) scale(1.0180 1.0180)"><text font-size="35" text-anchor="middle" transform="rotate(40)">5-6</text></g>
<g transform="translate(650.20 1735.48) scale(1.0180 1.0180)"><text font-size="35" text-anchor="middle" transform="rotate(40)">7-8</text></g>
<g transform="translate(754.51 1736.02) scale(1.0180 1.0180)"><g transform="rotate(40)"><text x="-35.026" font-size="35" dx="0 0 1.23 -1.23" clip-path="url(#f30)">9-10</text></g></g>
<g transform="translate(861.12 1735.93) scale(1.0180 1.0180)"><g transform="rotate(40)"><text x="-43.460" font-size="35" dx="1.23 0 -1.23 1.23 -1.23" clip-path="url(#f31)">11-12</text></g></g>
<g transform="translate(960.32 1735.48) scale(1.0180 1.0180)"><g transform="rotate(40)"><text x="-44.759" font-size="35" dx="1.23 -1.23 0 1.23 -1.23" clip-path="url(#f32)">13-14</text></g></g>
<g transform="translate(1062.72 1735.99) scale(1.0180 1.0180)"><g transform="rotate(40)"><text x="-44.759" font-size="35" dx="1.23 -1.23 0 1.23 -1.23" clip-path="url(#f33)">15-16</text></g></g>
<g transform="translate(1161.97 1735.99) scale(1.0180 1.0180)"><g transform="rotate(40)"><text x="-44.759" font-size="35" dx="1.23 -1.23 0 1.23 -1.23" clip-path="url(#f34)">17-18</text></g></g>
<g transform="translate(1264.28 1735.99) scale(1.0180 1.0180)"><g transform="rotate(40)"><text x="-44.759" font-size="35" dx="1.23 -1.23 0 0 0" clip-path="url(#f35)">19-20</text></g></g>
<g transform="translate(1356.98 1736.15) scale(1.0180 1.0180)"><g transform="rotate(40)"><text x="-25.293" font-size="35" dx="0 1.23 -1.23" clip-path="url(#f36)">21-</text></g></g>
<g transform="translate(343.77 2401.83) scale(1.0180 1.0180)"><g transform="rotate(40)"><text x="-25.293" font-size="35" dx="1.23 -1.23 0" clip-path="url(#f37)">1-2</text></g></g>
<g transform="translate(445.51 2401.51) scale(1.0180 1.0180)"><text font-size="35" text-anchor="middle" transform="rotate(40)">3-4</text></g>
<g transform="translate(548.07 2401.83) scale(1.0180 1.0180)"><text font-size="35" text-anchor="middle" transform="rotate(40)">5-6</text></g>
<g transform="translate(650.20 2401.18) scale(1.0180 1.0180)"><text font-size="35" text-anchor="middle" transform="rotate(40)">7-8</text></g>
<g transform="translate(754.51 2401.72) scale(1.0180 1.0180)"><g transform="rotate(40)"><text x="-35.026" font-size="35" dx="0 0 1.23 -1.23" clip-path="url(#f38)">9-10</text></g></g>
<g transform="translate(861.12 2401.63) scale(1.0180 1.0180)"><g transform="rotate(40)"><text x="-43.460" font-size="35" dx="1.23 0 -1.23 1.23 -1.23" clip-path="url(#f39)">11-12</text></g></g>
<g transform="translate(960.32 2401.19) scale(1.0180 1.0180)"><g transform="rotate(40)"><text x="-44.759" font-size="35" dx="1.23 -1.23 0 1.23 -1.23" clip-path="url(#f40)">13-14</text></g></g>
<g transform="translate(1062.72 2401.69) scale(1.0180 1.0180)"><g transform="rotate(40)"><text x="-44.759" font-size="35" dx="1.23 -1.23 0 1.23 -1.23" clip-path="url(#f41)">15-16</text></g></g>
<g transform="translate(1161.97 2401.69) scale(1.0180 1.0180)"><g transform="rotate(40)"><text x="-44.759" font-size="35" dx="1.23 -1.23 0 1.23 -1.23" clip-path="url(#f42)">17-18</text></g></g>
<g transform="translate(1264.28 2401.69) scale(1.0180 1.0180)"><g transform="rotate(40)"><text x="-44.759" font-size="35" dx="1.23 -1.23 0 0 0" clip-path="url(#f43)">19-20</text></g></g>
<g transform="translate(1356.98 2401.85) scale(1.0180 1.0180)"><g transform="rotate(40)"><text x="-25.293" font-size="35" dx="0 1.23 -1.23" clip-path="url(#f44)">21-</text></g></g>
</g>
<defs><clipPath id="f1" clipPathUnits="userSpaceOnUse"><path clip-rule="evenodd" d="M-2000 -2000H2000V2000H-2000ZM-34.40 -3.63H-27.38V0.99H-34.40ZM-24.25 -3.63H-17.40V0.99H-24.25Z"/></clipPath><clipPath id="f2" clipPathUnits="userSpaceOnUse"><path clip-rule="evenodd" d="M-2000 -2000H2000V2000H-2000ZM-25.22 -3.63H-18.21V0.99H-25.22ZM-15.07 -3.63H-8.22V0.99H-15.07Z"/></clipPath><clipPath id="f3" clipPathUnits="userSpaceOnUse"><path clip-rule="evenodd" d="M-2000 -2000H2000V2000H-2000ZM-16.04 -3.63H-9.03V0.99H-16.04ZM-5.90 -3.63H0.95V0.99H-5.90Z"/></clipPath><clipPath id="f4" clipPathUnits="userSpaceOnUse"><path clip-rule="evenodd" d="M-2000 -2000H2000V2000H-2000ZM-8.02 -3.63H-1.01V0.99H-8.02ZM2.13 -3.63H8.97V0.99H2.13Z"/></clipPath><clipPath id="f5" clipPathUnits="userSpaceOnUse"><path clip-rule="evenodd" d="M-2000 -2000H2000V2000H-2000ZM-43.57 -3.63H-36.56V0.99H-43.57ZM-33.43 -3.63H-26.58V0.99H-33.43Z"/></clipPath><clipPath id="f6" clipPathUnits="userSpaceOnUse"><path clip-rule="evenodd" d="M-2000 -2000H2000V2000H-2000ZM-34.40 -3.63H-27.38V0.99H-34.40ZM-24.25 -3.63H-17.40V0.99H-24.25Z"/></clipPath><clipPath id="f7" clipPathUnits="userSpaceOnUse"><path clip-rule="evenodd" d="M-2000 -2000H2000V2000H-2000ZM-25.22 -3.63H-18.21V0.99H-25.22ZM-15.07 -3.63H-8.22V0.99H-15.07Z"/></clipPath><clipPath id="f8" clipPathUnits="userSpaceOnUse"><path clip-rule="evenodd" d="M-2000 -2000H2000V2000H-2000ZM-16.04 -3.63H-9.03V0.99H-16.04ZM-5.90 -3.63H0.95V0.99H-5.90Z"/></clipPath><clipPath id="f9" clipPathUnits="userSpaceOnUse"><path clip-rule="evenodd" d="M-2000 -2000H2000V2000H-2000ZM-8.02 -3.63H-1.01V0.99H-8.02ZM2.13 -3.63H8.97V0.99H2.13Z"/></clipPath><clipPath id="f10" clipPathUnits="userSpaceOnUse"><path clip-rule="evenodd" d="M-2000 -2000H2000V2000H-2000ZM-27.51 -3.96H-19.86V1.08H-27.51ZM-16.44 -3.96H-8.97V1.08H-16.44Z"/></clipPath><clipPath id="f11" clipPathUnits="userSpaceOnUse"><path clip-rule="evenodd" d="M-2000 -2000H2000V2000H-2000ZM-17.50 -3.96H-9.85V1.08H-17.50ZM-6.43 -3.96H1.04V1.08H-6.43Z"/></clipPath><clipPath id="f12" clipPathUnits="userSpaceOnUse"><path clip-rule="evenodd" d="M-2000 -2000H2000V2000H-2000ZM-17.50 -3.96H-9.85V1.08H-17.50ZM-6.43 -3.96H1.04V1.08H-6.43Z"/></clipPath><clipPath id="f13" clipPathUnits="userSpaceOnUse"><path clip-rule="evenodd" d="M-2000 -2000H2000V2000H-2000ZM-17.50 -3.96H-9.85V1.08H-17.50ZM-6.43 -3.96H1.04V1.08H-6.43Z"/></clipPath><clipPath id="f14" clipPathUnits="userSpaceOnUse"><path clip-rule="evenodd" d="M-2000 -2000H2000V2000H-2000ZM2.24 -3.52H9.04V0.96H2.24ZM12.08 -3.52H24.46V0.96H12.08ZM27.50 -3.52H34.14V0.96H27.50ZM62.15 -3.52H68.95V0.96H62.15ZM71.99 -3.52H78.63V0.96H71.99Z"/></clipPath><clipPath id="f15" clipPathUnits="userSpaceOnUse"><path clip-rule="evenodd" d="M-2000 -2000H2000V2000H-2000ZM-1.45 -3.85H5.98V1.05H-1.45ZM9.31 -3.85H16.57V1.05H9.31Z"/></clipPath><clipPath id="f16" clipPathUnits="userSpaceOnUse"><path clip-rule="evenodd" d="M-2000 -2000H2000V2000H-2000ZM-41.01 -3.85H-33.57V1.05H-41.01ZM-30.25 -3.85H-16.70V1.05H-30.25ZM-13.38 -3.85H-6.12V1.05H-13.38ZM6.98 -3.85H14.42V1.05H6.98ZM17.74 -3.85H25.00V1.05H17.74Z"/></clipPath><clipPath id="f17" clipPathUnits="userSpaceOnUse"><path clip-rule="evenodd" d="M-2000 -2000H2000V2000H-2000ZM-42.31 -3.85H-34.87V1.05H-42.31ZM-31.55 -3.85H-24.28V1.05H-31.55ZM8.28 -3.85H15.72V1.05H8.28ZM19.04 -3.85H26.30V1.05H19.04Z"/></clipPath><clipPath id="f18" clipPathUnits="userSpaceOnUse"><path clip-rule="evenodd" d="M-2000 -2000H2000V2000H-2000ZM-42.31 -3.85H-34.87V1.05H-42.31ZM-31.55 -3.85H-24.28V1.05H-31.55ZM8.28 -3.85H15.72V1.05H8.28ZM19.04 -3.85H26.30V1.05H19.04Z"/></clipPath><clipPath id="f19" clipPathUnits="userSpaceOnUse"><path clip-rule="evenodd" d="M-2000 -2000H2000V2000H-2000ZM-42.31 -3.85H-34.87V1.05H-42.31ZM-31.55 -3.85H-24.28V1.05H-31.55ZM8.28 -3.85H15.72V1.05H8.28ZM19.04 -3.85H26.30V1.05H19.04Z"/></clipPath><clipPath id="f20" clipPathUnits="userSpaceOnUse"><path clip-rule="evenodd" d="M-2000 -2000H2000V2000H-2000ZM-42.31 -3.85H-34.87V1.05H-42.31ZM-31.55 -3.85H-24.28V1.05H-31.55Z"/></clipPath><clipPath id="f21" clipPathUnits="userSpaceOnUse"><path clip-rule="evenodd" d="M-2000 -2000H2000V2000H-2000ZM-3.38 -3.85H4.06V1.05H-3.38ZM7.38 -3.85H14.65V1.05H7.38Z"/></clipPath><clipPath id="f22" clipPathUnits="userSpaceOnUse"><path clip-rule="evenodd" d="M-2000 -2000H2000V2000H-2000ZM-1.45 -3.85H5.98V1.05H-1.45ZM9.31 -3.85H16.57V1.05H9.31Z"/></clipPath><clipPath id="f23" clipPathUnits="userSpaceOnUse"><path clip-rule="evenodd" d="M-2000 -2000H2000V2000H-2000ZM-41.01 -3.85H-33.57V1.05H-41.01ZM-30.25 -3.85H-16.70V1.05H-30.25ZM-13.38 -3.85H-6.12V1.05H-13.38ZM6.98 -3.85H14.42V1.05H6.98ZM17.74 -3.85H25.00V1.05H17.74Z"/></clipPath><clipPath id="f24" clipPathUnits="userSpaceOnUse"><path clip-rule="evenodd" d="M-2000 -2000H2000V2000H-2000ZM-42.31 -3.85H-34.87V1.05H-42.31ZM-31.55 -3.85H-24.28V1.05H-31.55ZM8.28 -3.85H15.72V1.05H8.28ZM19.04 -3.85H26.30V1.05H19.04Z"/></clipPath><clipPath id="f25" clipPathUnits="userSpaceOnUse"><path clip-rule="evenodd" d="M-2000 -2000H2000V2000H-2000ZM-42.31 -3.85H-34.87V1.05H-42.31ZM-31.55 -3.85H-24.28V1.05H-31.55ZM8.28 -3.85H15.72V1.05H8.28ZM19.04 -3.85H26.30V1.05H19.04Z"/></clipPath><clipPath id="f26" clipPathUnits="userSpaceOnUse"><path clip-rule="evenodd" d="M-2000 -2000H2000V2000H-2000ZM-42.31 -3.85H-34.87V1.05H-42.31ZM-31.55 -3.85H-24.28V1.05H-31.55ZM8.28 -3.85H15.72V1.05H8.28ZM19.04 -3.85H26.30V1.05H19.04Z"/></clipPath><clipPath id="f27" clipPathUnits="userSpaceOnUse"><path clip-rule="evenodd" d="M-2000 -2000H2000V2000H-2000ZM-42.31 -3.85H-34.87V1.05H-42.31ZM-31.55 -3.85H-24.28V1.05H-31.55Z"/></clipPath><clipPath id="f28" clipPathUnits="userSpaceOnUse"><path clip-rule="evenodd" d="M-2000 -2000H2000V2000H-2000ZM-3.38 -3.85H4.06V1.05H-3.38ZM7.38 -3.85H14.65V1.05H7.38Z"/></clipPath><clipPath id="f29" clipPathUnits="userSpaceOnUse"><path clip-rule="evenodd" d="M-2000 -2000H2000V2000H-2000ZM-22.84 -3.85H-15.41V1.05H-22.84ZM-12.08 -3.85H-4.82V1.05H-12.08Z"/></clipPath><clipPath id="f30" clipPathUnits="userSpaceOnUse"><path clip-rule="evenodd" d="M-2000 -2000H2000V2000H-2000ZM-1.45 -3.85H5.98V1.05H-1.45ZM9.31 -3.85H16.57V1.05H9.31Z"/></clipPath><clipPath id="f31" clipPathUnits="userSpaceOnUse"><path clip-rule="evenodd" d="M-2000 -2000H2000V2000H-2000ZM-41.01 -3.85H-33.57V1.05H-41.01ZM-30.25 -3.85H-16.70V1.05H-30.25ZM-13.38 -3.85H-6.12V1.05H-13.38ZM6.98 -3.85H14.42V1.05H6.98ZM17.74 -3.85H25.00V1.05H17.74Z"/></clipPath><clipPath id="f32" clipPathUnits="userSpaceOnUse"><path clip-rule="evenodd" d="M-2000 -2000H2000V2000H-2000ZM-42.31 -3.85H-34.87V1.05H-42.31ZM-31.55 -3.85H-24.28V1.05H-31.55ZM8.28 -3.85H15.72V1.05H8.28ZM19.04 -3.85H26.30V1.05H19.04Z"/></clipPath><clipPath id="f33" clipPathUnits="userSpaceOnUse"><path clip-rule="evenodd" d="M-2000 -2000H2000V2000H-2000ZM-42.31 -3.85H-34.87V1.05H-42.31ZM-31.55 -3.85H-24.28V1.05H-31.55ZM8.28 -3.85H15.72V1.05H8.28ZM19.04 -3.85H26.30V1.05H19.04Z"/></clipPath><clipPath id="f34" clipPathUnits="userSpaceOnUse"><path clip-rule="evenodd" d="M-2000 -2000H2000V2000H-2000ZM-42.31 -3.85H-34.87V1.05H-42.31ZM-31.55 -3.85H-24.28V1.05H-31.55ZM8.28 -3.85H15.72V1.05H8.28ZM19.04 -3.85H26.30V1.05H19.04Z"/></clipPath><clipPath id="f35" clipPathUnits="userSpaceOnUse"><path clip-rule="evenodd" d="M-2000 -2000H2000V2000H-2000ZM-42.31 -3.85H-34.87V1.05H-42.31ZM-31.55 -3.85H-24.28V1.05H-31.55Z"/></clipPath><clipPath id="f36" clipPathUnits="userSpaceOnUse"><path clip-rule="evenodd" d="M-2000 -2000H2000V2000H-2000ZM-3.38 -3.85H4.06V1.05H-3.38ZM7.38 -3.85H14.65V1.05H7.38Z"/></clipPath><clipPath id="f37" clipPathUnits="userSpaceOnUse"><path clip-rule="evenodd" d="M-2000 -2000H2000V2000H-2000ZM-22.84 -3.85H-15.41V1.05H-22.84ZM-12.08 -3.85H-4.82V1.05H-12.08Z"/></clipPath><clipPath id="f38" clipPathUnits="userSpaceOnUse"><path clip-rule="evenodd" d="M-2000 -2000H2000V2000H-2000ZM-1.45 -3.85H5.98V1.05H-1.45ZM9.31 -3.85H16.57V1.05H9.31Z"/></clipPath><clipPath id="f39" clipPathUnits="userSpaceOnUse"><path clip-rule="evenodd" d="M-2000 -2000H2000V2000H-2000ZM-41.01 -3.85H-33.57V1.05H-41.01ZM-30.25 -3.85H-16.70V1.05H-30.25ZM-13.38 -3.85H-6.12V1.05H-13.38ZM6.98 -3.85H14.42V1.05H6.98ZM17.74 -3.85H25.00V1.05H17.74Z"/></clipPath><clipPath id="f40" clipPathUnits="userSpaceOnUse"><path clip-rule="evenodd" d="M-2000 -2000H2000V2000H-2000ZM-42.31 -3.85H-34.87V1.05H-42.31ZM-31.55 -3.85H-24.28V1.05H-31.55ZM8.28 -3.85H15.72V1.05H8.28ZM19.04 -3.85H26.30V1.05H19.04Z"/></clipPath><clipPath id="f41" clipPathUnits="userSpaceOnUse"><path clip-rule="evenodd" d="M-2000 -2000H2000V2000H-2000ZM-42.31 -3.85H-34.87V1.05H-42.31ZM-31.55 -3.85H-24.28V1.05H-31.55ZM8.28 -3.85H15.72V1.05H8.28ZM19.04 -3.85H26.30V1.05H19.04Z"/></clipPath><clipPath id="f42" clipPathUnits="userSpaceOnUse"><path clip-rule="evenodd" d="M-2000 -2000H2000V2000H-2000ZM-42.31 -3.85H-34.87V1.05H-42.31ZM-31.55 -3.85H-24.28V1.05H-31.55ZM8.28 -3.85H15.72V1.05H8.28ZM19.04 -3.85H26.30V1.05H19.04Z"/></clipPath><clipPath id="f43" clipPathUnits="userSpaceOnUse"><path clip-rule="evenodd" d="M-2000 -2000H2000V2000H-2000ZM-42.31 -3.85H-34.87V1.05H-42.31ZM-31.55 -3.85H-24.28V1.05H-31.55Z"/></clipPath><clipPath id="f44" clipPathUnits="userSpaceOnUse"><path clip-rule="evenodd" d="M-2000 -2000H2000V2000H-2000ZM-3.38 -3.85H4.06V1.05H-3.38ZM7.38 -3.85H14.65V1.05H7.38Z"/></clipPath></defs>
</svg></body></html>
